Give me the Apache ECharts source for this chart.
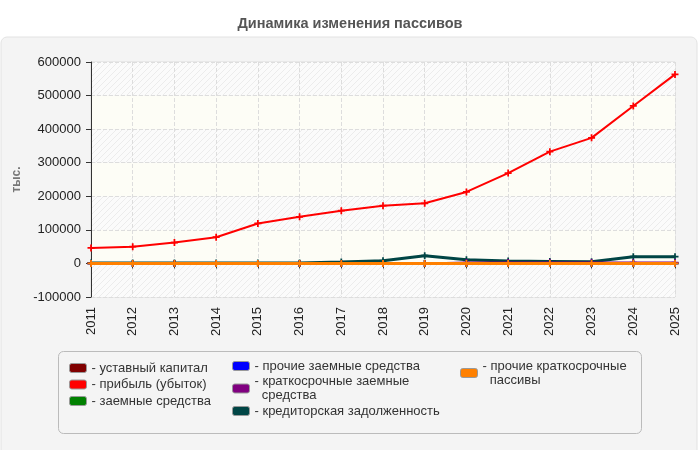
<!DOCTYPE html>
<html>
<head>
<meta charset="utf-8">
<script src="https://cdn.jsdelivr.net/npm/echarts@6/dist/echarts.min.js"></script>
<style>
  html, body { margin: 0; padding: 0; background: #fff; }
  #chart { width: 700px; height: 450px; }
</style>
</head>
<body>
<div id="chart"></div>
<script>
const years = ["2011", "2012", "2013", "2014", "2015", "2016", "2017", "2018", "2019", "2020", "2021", "2022", "2023", "2024", "2025"]

const ustavCapital = [10, 10, 10, 10, 10, 10, 10, 10, 10, 10, 10, 10, 10, 10, 10]
const profit = [46000, 50000, 62000, 78000, 119000, 139000, 157000, 172000, 179000, 213000, 269000, 333000, 374000, 469000, 563000]
const borrowed = [0, 0, 0, 0, 0, 0, 0, 0, 0, 0, 0, 0, 0, 0, 0]
const otherBorrowed = [0, 0, 0, 0, 0, 0, 0, 0, 0, 0, 0, 0, 0, 0, 0]
const shortBorrowed = [0, 0, 0, 0, 0, 0, 0, 0, 0, 2500, 2500, 2500, 2500, 2500, 2500]
const payables = [1500, 1500, 1500, 1500, 1500, 1500, 4500, 8000, 23000, 11000, 7000, 6000, 5000, 20000, 20000]
const otherShort = [0, 0, 0, 0, 0, 0, 0, 0, 0, 0, 0, 0, 0, 0, 0]

const names = [
    "уставный капитал",
    "прибыль (убыток)",
    "заемные средства",
    "прочие заемные средства",
    "краткосрочные заемные средства",
    "кредиторская задолженность",
    "прочие краткосрочные пассивы"
]
const wrapped = {
    "краткосрочные заемные средства": "краткосрочные заемные\n  средства",
    "прочие краткосрочные пассивы": "прочие краткосрочные\n  пассивы"
}

const hatch = (() => {
    const c = document.createElement("canvas")
    c.width = 6
    c.height = 6
    const ctx = c.getContext("2d")
    ctx.fillStyle = "#fbfbfb"
    ctx.fillRect(0, 0, 6, 6)
    ctx.strokeStyle = "#ececec"
    ctx.lineWidth = 1
    ctx.beginPath()
    ctx.moveTo(0, 6)
    ctx.lineTo(6, 0)
    ctx.moveTo(-3, 3)
    ctx.lineTo(3, -3)
    ctx.moveTo(3, 9)
    ctx.lineTo(9, 3)
    ctx.stroke()
    return c
})()

const plus = "path://M3,0h2v3h3v2h-3v3h-2v-3h-3v-2h3z"
const font = "Liberation Sans, Arial, sans-serif"

const line = (name, data, color, width, z) => ({
    name,
    type: "line",
    data,
    z,
    symbol: plus,
    symbolSize: 7,
    showSymbol: true,
    lineStyle: { color, width },
    itemStyle: { color },
    emphasis: { disabled: true }
})

const legendBase = {
    orient: "vertical",
    padding: 0,
    itemWidth: 17,
    itemHeight: 9,
    itemGap: 2.5,
    icon: "roundRect",
    itemStyle: { borderColor: "#999", borderWidth: 1 },
    textStyle: { fontFamily: font, fontSize: 13, color: "#333", lineHeight: 14 },
    formatter: n => "- " + (wrapped[n] || n),
    selectedMode: false
}

const chart = echarts.init(document.getElementById("chart"))
chart.setOption({
    animation: false,
    textStyle: { fontFamily: font },
    title: {
        text: "Динамика изменения пассивов",
        left: "center",
        top: 11,
        textStyle: { fontFamily: font, fontSize: 14.5, fontWeight: "bold", color: "#555" }
    },
    graphic: [
        {
            type: "rect",
            z: -10,
            shape: { x: 1, y: 37, width: 696, height: 420, r: 6 },
            style: { fill: "#f4f4f4", stroke: "#e2e2e2", lineWidth: 1 }
        },
        {
            type: "rect",
            z: -9,
            shape: { x: 58.5, y: 351.5, width: 583, height: 82, r: 5 },
            style: { fill: "#f4f4f4", stroke: "#bbb", lineWidth: 1 }
        }
    ],
    legend: [
        Object.assign({}, legendBase, { left: 69, top: 361, data: names.slice(0, 3) }),
        Object.assign({}, legendBase, { left: 232, top: 359, itemGap: 1.5, data: names.slice(3, 6) }),
        Object.assign({}, legendBase, { left: 460, top: 359, data: names.slice(6) })
    ],
    grid: {
        left: 91,
        right: 25,
        top: 62,
        bottom: 153,
        show: true,
        borderColor: "#ddd",
        borderWidth: 1,
        backgroundColor: "transparent"
    },
    xAxis: {
        type: "category",
        data: years,
        boundaryGap: false,
        axisLine: { lineStyle: { color: "#333" } },
        axisTick: { show: true, length: 5, lineStyle: { color: "#333" } },
        axisLabel: { rotate: 90, fontSize: 13, color: "#222", margin: 10 },
        splitLine: { show: true, lineStyle: { color: "#ddd", type: "dashed" } }
    },
    yAxis: {
        type: "value",
        min: -100000,
        max: 600000,
        interval: 100000,
        name: "тыс.",
        nameLocation: "middle",
        nameGap: 65,
        nameTextStyle: { fontSize: 12, fontWeight: "bold", color: "#777" },
        axisLine: { show: true, lineStyle: { color: "#333" } },
        axisTick: { show: true, length: 5, lineStyle: { color: "#333" } },
        axisLabel: { fontSize: 13, color: "#222", margin: 10, formatter: v => String(v) },
        splitLine: { lineStyle: { color: "#ddd", type: "dashed" } },
        splitArea: {
            show: true,
            areaStyle: { color: [{ image: hatch, repeat: "repeat" }, "#fdfdf6"] }
        }
    },
    series: [
        line(names[0], ustavCapital, "#800000", 2, 2),
        line(names[1], profit, "#ff0000", 2, 3),
        line(names[2], borrowed, "#008000", 2, 2),
        line(names[3], otherBorrowed, "#0000ff", 2, 2),
        line(names[5], payables, "#004545", 3, 4),
        line(names[4], shortBorrowed, "#800080", 2, 5),
        line(names[6], otherShort, "#ff8000", 3, 6)
    ]
})
</script>
</body>
</html>
